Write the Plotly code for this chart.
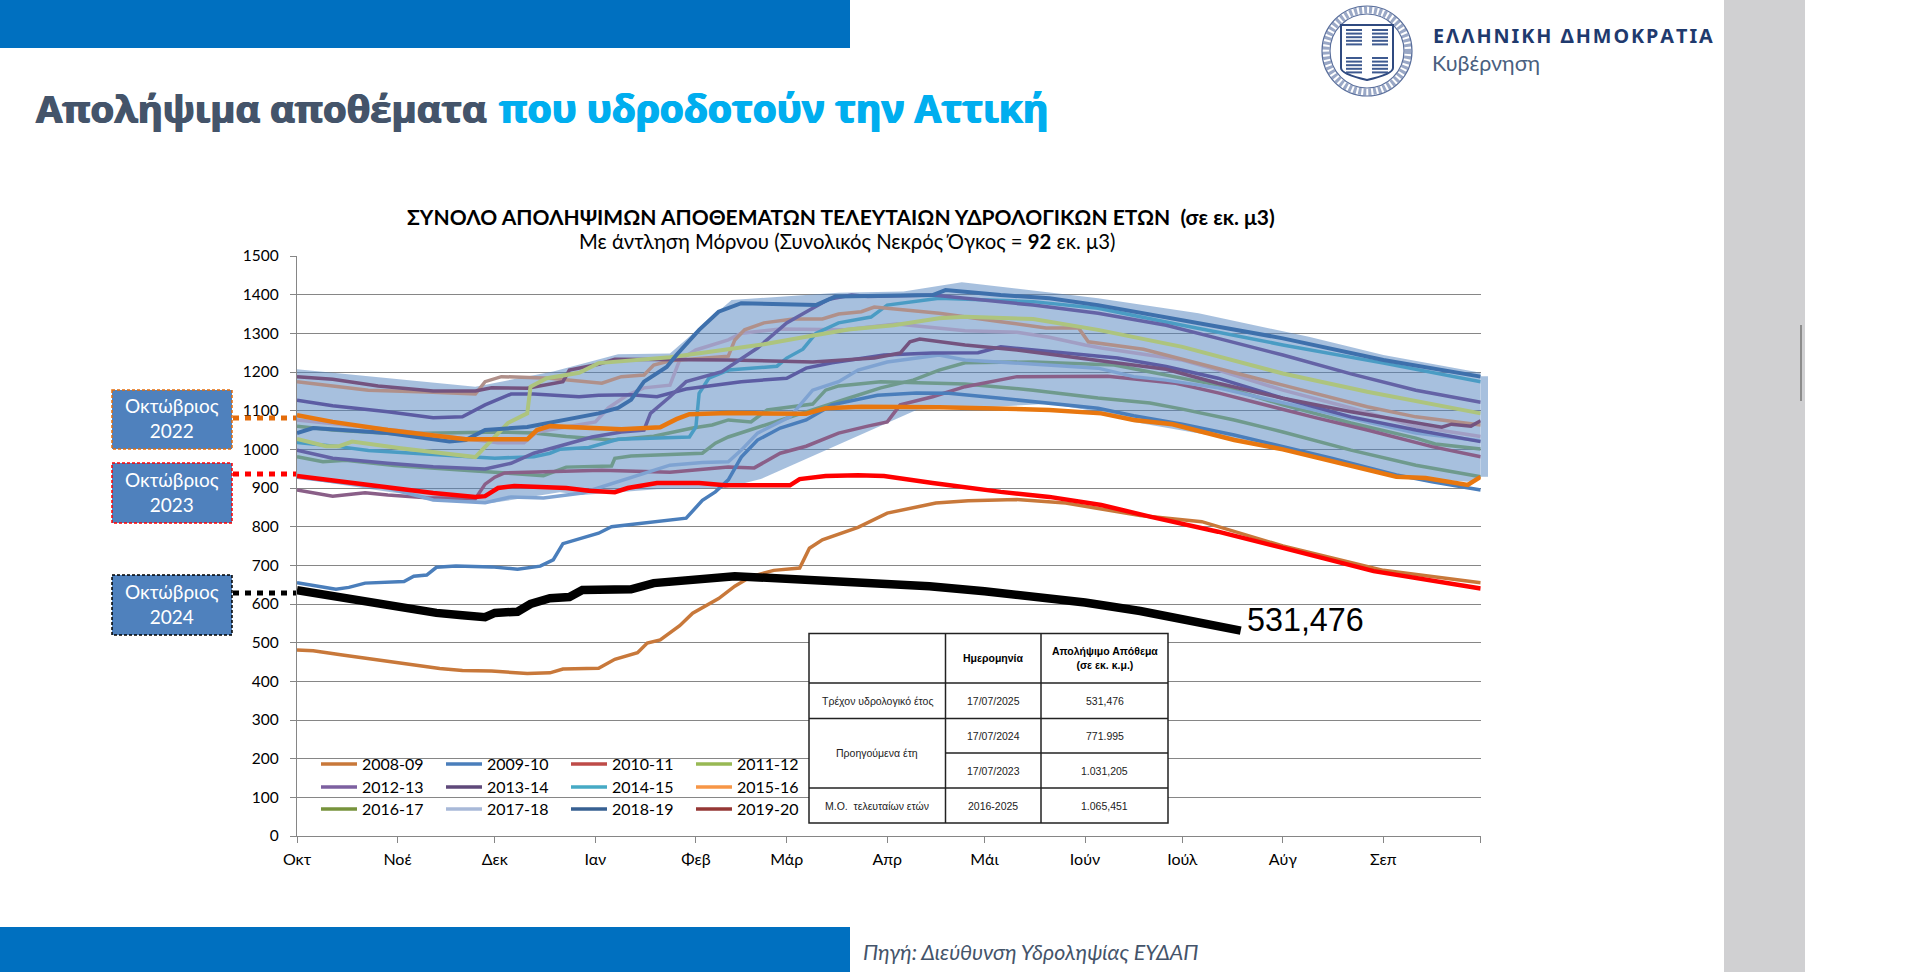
import plotly.graph_objects as go

# values: day of hydrological year (0 = 1 Oct), stock in mil. m3
MONTHS = ["Οκτ", "Νοέ", "Δεκ", "Ιαν", "Φεβ", "Μάρ", "Απρ", "Μάι", "Ιούν", "Ιούλ", "Αύγ", "Σεπ", ""]
MONTH_DAYS = [0, 31, 61, 92, 123, 151, 182, 212, 243, 273, 304, 335, 365]

band_up_x = [0, 55, 79, 99, 115, 134, 167, 187, 205, 232, 247, 278, 312, 335, 365]
band_up_y = [1207, 1162, 1201, 1246, 1248, 1386, 1405, 1408, 1432, 1405, 1391, 1352, 1291, 1244, 1198]
band_lo_x = [0, 28, 42, 60, 81, 88, 111, 132, 143, 191, 206, 232, 247, 258, 304, 339, 361, 365]
band_lo_y = [926, 890, 874, 861, 889, 882, 897, 900, 923, 1102, 1106, 1118, 1097, 1071, 1003, 929, 916, 925]

x_2008 = [0, 5, 14, 25, 34, 44, 51, 60, 71, 78, 82, 93, 98, 105, 108, 112, 118, 122, 130, 135, 140, 147, 155, 158, 162, 173, 182, 190, 197, 207, 222, 237, 260, 279, 304, 335, 365]
y_2008 = [481, 479, 468, 455, 445, 433, 428, 427, 420, 422, 432, 434, 457, 474, 499, 507, 544, 576, 614, 646, 671, 687, 693, 744, 766, 798, 835, 848, 861, 867, 870, 861, 829, 813, 750, 687, 655]
x_2009 = [0, 12, 16, 21, 33, 36, 40, 43, 49, 60, 68, 75, 79, 82, 93, 97, 120, 125, 129, 133, 137, 142, 149, 157, 165, 179, 191, 201, 217, 232, 247, 258, 273, 289, 304, 319, 339, 350, 365]
y_2009 = [655, 638, 643, 654, 658, 672, 675, 695, 698, 696, 690, 698, 714, 756, 783, 800, 822, 868, 890, 921, 980, 1024, 1055, 1076, 1115, 1140, 1146, 1145, 1132, 1120, 1106, 1087, 1065, 1037, 1007, 977, 934, 916, 895]
x_2010 = [0, 11, 21, 28, 40, 55, 58, 61, 64, 94, 115, 133, 141, 149, 157, 167, 176, 182, 186, 196, 206, 222, 250, 271, 284, 296, 314, 330, 350, 365]
y_2010 = [895, 879, 888, 882, 875, 872, 910, 928, 939, 946, 941, 954, 952, 990, 1008, 1042, 1060, 1071, 1115, 1136, 1162, 1188, 1189, 1171, 1146, 1120, 1082, 1050, 1007, 981]
x_2011 = [0, 9, 13, 17, 32, 52, 55, 60, 65, 71, 72, 77, 87, 93, 115, 128, 144, 157, 170, 184, 198, 206, 227, 247, 273, 304, 330, 365]
y_2011 = [1027, 1008, 1008, 1020, 1003, 981, 980, 1024, 1068, 1093, 1162, 1184, 1198, 1223, 1238, 1253, 1272, 1291, 1310, 1321, 1339, 1343, 1337, 1309, 1265, 1196, 1149, 1093]
x_2012 = [0, 11, 28, 42, 58, 66, 73, 91, 100, 107, 109, 115, 120, 124, 131, 142, 151, 159, 164, 171, 176, 196, 206, 227, 247, 268, 284, 304, 325, 345, 365]
y_2012 = [998, 977, 964, 955, 949, 964, 990, 1032, 1045, 1050, 1093, 1136, 1175, 1184, 1201, 1262, 1327, 1365, 1388, 1399, 1395, 1399, 1391, 1373, 1352, 1321, 1287, 1244, 1195, 1153, 1122]
x_2013 = [0, 11, 25, 42, 55, 60, 71, 82, 84, 93, 98, 133, 159, 178, 186, 189, 192, 198, 206, 222, 247, 268, 284, 304, 325, 345, 353, 356, 362, 365]
y_2013 = [1188, 1181, 1164, 1151, 1151, 1159, 1158, 1175, 1205, 1220, 1233, 1231, 1226, 1236, 1249, 1278, 1285, 1278, 1270, 1257, 1231, 1207, 1171, 1132, 1097, 1068, 1057, 1065, 1060, 1074]
x_2014 = [0, 13, 22, 42, 61, 73, 78, 81, 90, 99, 109, 121, 123, 124, 127, 133, 148, 151, 156, 160, 167, 177, 182, 198, 227, 247, 273, 304, 335, 365]
y_2014 = [1018, 1007, 997, 986, 977, 981, 990, 1000, 1005, 1026, 1029, 1032, 1058, 1145, 1184, 1205, 1215, 1236, 1259, 1300, 1327, 1342, 1373, 1391, 1382, 1365, 1321, 1270, 1223, 1175]
x_2015 = [0, 22, 40, 55, 58, 63, 78, 94, 100, 107, 110, 115, 133, 135, 138, 144, 153, 162, 167, 174, 178, 188, 198, 217, 231, 241, 244, 261, 278, 304, 330, 345, 365]
y_2015 = [1175, 1153, 1148, 1143, 1175, 1188, 1184, 1171, 1188, 1192, 1218, 1229, 1241, 1283, 1309, 1327, 1337, 1337, 1350, 1356, 1368, 1360, 1352, 1330, 1314, 1314, 1278, 1259, 1223, 1166, 1110, 1084, 1063]
x_2016 = [0, 11, 30, 45, 55, 63, 73, 83, 97, 110, 122, 128, 133, 140, 145, 159, 163, 167, 180, 198, 206, 227, 247, 263, 273, 289, 304, 325, 345, 365]
y_2016 = [1060, 1050, 1040, 1042, 1042, 1045, 1042, 1033, 1024, 1034, 1055, 1063, 1076, 1071, 1102, 1117, 1153, 1164, 1175, 1172, 1169, 1153, 1133, 1120, 1104, 1076, 1045, 998, 959, 929]
x_2017 = [0, 8, 15, 30, 55, 64, 76, 83, 97, 98, 103, 125, 129, 133, 147, 157, 170, 180, 190, 198, 206, 227, 252, 268, 284, 304, 325, 345, 351, 365]
y_2017 = [981, 968, 972, 958, 944, 939, 932, 954, 957, 977, 983, 990, 1016, 1032, 1071, 1097, 1132, 1159, 1179, 1205, 1224, 1226, 1218, 1192, 1166, 1115, 1068, 1029, 1014, 1001]
x_2018 = [0, 5, 28, 47, 52, 58, 71, 83, 93, 99, 103, 107, 114, 117, 124, 130, 137, 160, 166, 196, 200, 217, 232, 247, 273, 304, 335, 365]
y_2018 = [1042, 1055, 1042, 1020, 1024, 1050, 1058, 1076, 1093, 1107, 1128, 1175, 1213, 1244, 1309, 1356, 1378, 1373, 1395, 1399, 1412, 1399, 1391, 1373, 1334, 1287, 1231, 1188]
x_2019 = [0, 11, 28, 42, 51, 58, 66, 73, 87, 93, 103, 111, 120, 133, 137, 151, 157, 165, 181, 196, 210, 217, 232, 247, 253, 268, 284, 304, 325, 345, 365]
y_2019 = [1127, 1113, 1097, 1082, 1084, 1115, 1143, 1143, 1136, 1140, 1141, 1136, 1156, 1171, 1175, 1184, 1210, 1224, 1244, 1249, 1250, 1265, 1252, 1239, 1236, 1214, 1184, 1132, 1084, 1050, 1020]
x_2020 = [0, 30, 62, 70, 74, 92, 96, 102, 107, 115, 118, 123, 133, 137, 149, 169, 185, 198, 206, 222, 232, 243, 248, 273, 284, 304, 325, 345, 365]
y_2020 = [1076, 1050, 1017, 1017, 1045, 1071, 1107, 1141, 1159, 1166, 1231, 1257, 1283, 1300, 1311, 1309, 1324, 1314, 1307, 1303, 1290, 1270, 1262, 1231, 1205, 1153, 1107, 1059, 1033]
x_2017b = [0, 28, 42, 58, 66, 76, 88, 99, 108, 115, 125, 133, 137, 142, 152, 159, 167, 173, 182, 198, 206, 222, 247, 258, 268, 284, 304, 325, 345, 365]
y_2017b = [928, 900, 869, 862, 877, 874, 887, 916, 939, 959, 966, 968, 998, 1042, 1084, 1153, 1175, 1205, 1226, 1244, 1231, 1223, 1210, 1188, 1179, 1159, 1120, 1081, 1042, 1022]
x_2022 = [0, 11, 28, 42, 52, 71, 74, 78, 93, 100, 112, 117, 121, 133, 141, 157, 163, 174, 198, 232, 248, 258, 270, 289, 304, 319, 339, 348, 361, 365]
y_2022 = [1088, 1071, 1050, 1037, 1026, 1026, 1050, 1060, 1055, 1052, 1057, 1078, 1091, 1094, 1093, 1092, 1106, 1110, 1109, 1102, 1093, 1076, 1065, 1024, 1000, 970, 929, 926, 908, 929]
x_2023 = [0, 11, 28, 42, 55, 58, 62, 67, 83, 90, 98, 102, 111, 124, 132, 152, 155, 163, 173, 181, 196, 217, 232, 248, 263, 284, 304, 332, 365]
y_2023 = [931, 919, 902, 887, 877, 879, 900, 905, 900, 893, 889, 900, 913, 913, 907, 907, 923, 931, 933, 931, 913, 890, 877, 856, 826, 787, 745, 685, 640]
x_2024 = [0, 16, 31, 43, 51, 58, 61, 68, 72, 78, 84, 88, 103, 110, 135, 151, 182, 195, 212, 243, 260, 273, 291]
y_2024 = [636, 612, 590, 577, 571, 566, 577, 580, 600, 615, 618, 636, 638, 654, 672, 665, 649, 646, 633, 604, 582, 560, 531]

LEGEND_ROWS = [
    ["2008-09", "2009-10", "2010-11", "2011-12"],
    ["2012-13", "2013-14", "2014-15", "2015-16"],
    ["2016-17", "2017-18", "2018-19", "2019-20"],
]
LEGEND_COLORS = {
    "2008-09": "#C8783A", "2009-10": "#4A7EBB", "2010-11": "#BE4B48", "2011-12": "#98B954",
    "2012-13": "#7D60A0", "2013-14": "#5F497A", "2014-15": "#46AAC5", "2015-16": "#F79646",
    "2016-17": "#77933C", "2017-18": "#A8B9D8", "2018-19": "#376092", "2019-20": "#953735",
}

TABLE_HEAD = ["", "Ημερομηνία", "Απολήψιμο Απόθεμα<br>(σε εκ. κ.μ.)"]
TABLE_DATES = ["17/07/2025", "17/07/2024", "17/07/2023", "2016-2025"]
TABLE_VALUES = ["531,476", "771.995", "1.031,205", "1.065,451"]
TABLE_ROWS = ["Τρέχον υδρολογικό έτος", "Προηγούμενα έτη", "Μ.Ο.  τελευταίων ετών"]

W, H = 1920, 972
LABEL_FONT = "Lato"


def px(x):
    return x / W


def py(y):
    return 1 - y / H


def rect(x0, y0, x1, y1, fill, line=None, width=0, dash="solid", layer="above"):
    return dict(type="rect", xref="paper", yref="paper", x0=px(x0), x1=px(x1), y0=py(y0), y1=py(y1),
                fillcolor=fill, line=dict(color=line or fill, width=width, dash=dash), layer=layer)


def text(x, y, s, size, color="#000000", family=LABEL_FONT, anchor="center", **font_kw):
    return dict(xref="paper", yref="paper", x=px(x), y=py(y), text=s, showarrow=False, xanchor=anchor,
                yanchor="middle", font=dict(size=size, color=color, family=family, **font_kw))


fig = go.Figure()

fig.add_trace(go.Scatter(x=band_up_x + band_lo_x[::-1], y=band_up_y + band_lo_y[::-1], fill="toself",
                         fillcolor="rgba(79,129,189,0.5)", line=dict(width=0), mode="lines",
                         showlegend=False, hoverinfo="skip"))

series = [
    (x_2008, y_2008, "#C8783A", 3.5),
    (x_2017, y_2017, "#6F9A8D", 3.5),
    (x_2016, y_2016, "#6F9A8D", 3.5),
    (x_2010, y_2010, "#8A5F88", 3.5),
    (x_2009, y_2009, "#4A7EBB", 3.5),
    (x_2017b, y_2017b, "#7FA3D2", 3.5),
    (x_2020, y_2020, "#A19EC4", 3.5),
    (x_2014, y_2014, "#4A9CC4", 3.5),
    (x_2015, y_2015, "#B0908A", 3.5),
    (x_2019, y_2019, "#5C5CA3", 3.5),
    (x_2013, y_2013, "#74537F", 3.5),
    (x_2012, y_2012, "#6463A6", 3.5),
    (x_2011, y_2011, "#ADC47E", 4),
    (x_2018, y_2018, "#3E70AC", 4),
    (x_2022, y_2022, "#E8770F", 4.5),
    (x_2023, y_2023, "#FF0000", 4.5),
    (x_2024, y_2024, "#000000", 8.5),
]
for xs, ys, color, width in series:
    fig.add_trace(go.Scatter(x=xs, y=ys, mode="lines", line=dict(color=color, width=width), showlegend=False))

# empty traces only carry the legend keys, the colours there are brighter than the lines
legend_names = ["legend", "legend2", "legend3"]
for row, legend_name in zip(LEGEND_ROWS, legend_names):
    for name in row:
        fig.add_trace(go.Scatter(x=[None], y=[None], mode="lines", name=name, legend=legend_name,
                                 line=dict(color=LEGEND_COLORS[name], width=3.5)))

legend_style = dict(orientation="h", xanchor="left", yanchor="middle", x=px(316),
                    bgcolor="rgba(0,0,0,0)", entrywidth=74, entrywidthmode="pixels",
                    itemwidth=36, font=dict(family=LABEL_FONT, size=16, color="#000000"))

shapes = [
    rect(0, 0, 850, 48, "#0070C0", layer="below"),
    rect(0, 927, 850, 972, "#0070C0", layer="below"),
    rect(1724, 0, 1805, 972, "#D0D0D2", layer="below"),
    rect(1800, 325, 1802, 401, "#8C8C8C"),
    # tail of the band, it runs a little past the axis
    dict(type="rect", xref="paper", yref="y", x0=px(1480.7), x1=px(1488), y0=929, y1=1189,
         fillcolor="rgba(79,129,189,0.5)", line=dict(width=0), layer="below"),
]

# callouts on the left
CALLOUTS = [("Οκτώβριος<br>2022", 390, 449, "#E46C0A", 418), ("Οκτώβριος<br>2023", 463, 523, "#FF0000", 474),
            ("Οκτώβριος<br>2024", 575, 635, "#000000", 593)]
annotations = []
for label, top, bottom, color, conn in CALLOUTS:
    shapes.append(rect(112, top, 232, bottom, "#4F81BD", color, 1.5, "3px,2px"))
    shapes.append(dict(type="line", xref="paper", yref="paper", x0=px(233), x1=px(296), y0=py(conn), y1=py(conn),
                       line=dict(color=color, width=5, dash="6px,6px")))
    annotations.append(text(172, (top + bottom) / 2 - 1.5, label, 19, "#FFFFFF"))

# table
col_x = [809, 945.5, 1041, 1168]
row_y = [633.5, 683, 718.5, 753, 788, 823]
shapes.append(rect(col_x[0], row_y[0], col_x[3], row_y[5], "#FFFFFF", "#222222", 1.5))
for xv in col_x[1:3]:
    shapes.append(dict(type="line", xref="paper", yref="paper", x0=px(xv), x1=px(xv), y0=py(row_y[0]), y1=py(row_y[5]),
                       line=dict(color="#222222", width=1.5)))
for i, yv in enumerate(row_y[1:5]):
    start = col_x[1] if i == 2 else col_x[0]
    shapes.append(dict(type="line", xref="paper", yref="paper", x0=px(start), x1=px(col_x[3]), y0=py(yv), y1=py(yv),
                       line=dict(color="#222222", width=1.5)))
TF = "Liberation Sans"
mid_col = [(col_x[i] + col_x[i + 1]) / 2 for i in range(3)]
annotations.append(text(mid_col[1], (row_y[0] + row_y[1]) / 2, "<b>" + TABLE_HEAD[1] + "</b>", 10.5, family=TF))
annotations.append(text(mid_col[2], (row_y[0] + row_y[1]) / 2, "<b>" + TABLE_HEAD[2] + "</b>", 10.5, family=TF))
row_mid = [(row_y[i] + row_y[i + 1]) / 2 for i in range(1, 5)]
for i in range(4):
    annotations.append(text(mid_col[1], row_mid[i], TABLE_DATES[i], 10.5, family=TF, color="#222222"))
    annotations.append(text(mid_col[2], row_mid[i], TABLE_VALUES[i], 10.5, family=TF, color="#222222"))
annotations.append(text(mid_col[0], row_mid[0], TABLE_ROWS[0], 10.5, family=TF, color="#222222"))
annotations.append(text(mid_col[0], row_y[3], TABLE_ROWS[1], 10.5, family=TF, color="#222222"))
annotations.append(text(mid_col[0], row_mid[3], TABLE_ROWS[2], 10.5, family=TF, color="#222222"))

DARK, CYAN = "#44546A", "#00AEEF"
annotations += [
    text(1245, 620, "531,476", 32.3, family=TF, anchor="left"),
    text(841, 217, "<b>ΣΥΝΟΛΟ ΑΠΟΛΗΨΙΜΩΝ ΑΠΟΘΕΜΑΤΩΝ ΤΕΛΕΥΤΑΙΩΝ ΥΔΡΟΛΟΓΙΚΩΝ ΕΤΩΝ  (σε εκ. μ3)</b>", 21),
    text(847, 241, "Με άντληση Μόρνου (Συνολικός Νεκρός Όγκος = <b>92</b> εκ. μ3)", 20.3),
    text(34, 108, "<b>Απολήψιμα αποθέματα</b>", 38.2, DARK, anchor="left", family="Open Sans",
         shadow=f"0.8px 0 0 {DARK}, -0.8px 0 0 {DARK}"),
    text(497, 108, "<b>που υδροδοτούν την Αττική</b>", 38.8, CYAN, anchor="left", family="Open Sans",
         shadow=f"0.8px 0 0 {CYAN}, -0.8px 0 0 {CYAN}"),
    text(861, 952, "<i>Πηγή: Διεύθυνση Υδροληψίας ΕΥΔΑΠ</i>", 21.4, DARK, anchor="left"),
    text(1431, 36, "<b>" + "\u200a".join("ΕΛΛΗΝΙΚΗ ΔΗΜΟΚΡΑΤΙΑ") + "</b>", 19.8, "#1F3A6E", anchor="left", family="Noto Sans"),
    text(1430, 63, "Κυβέρνηση", 21.5, "#4A5F80", anchor="left"),
]

# emblem next to the logo text
LOGO = "#5A6F9C"
cx, cy = 1367, 51
for r, w, d, c in [(41, 7, "3px,2px", "#9AA8C6"), (45, 1.2, "solid", LOGO), (37, 1.2, "solid", LOGO)]:
    shapes.append(dict(type="circle", xref="paper", yref="paper", x0=px(cx - r), x1=px(cx + r), y0=py(cy - r), y1=py(cy + r),
                       fillcolor="rgba(0,0,0,0)", line=dict(color=c, width=w, dash=d)))
shield = "M {} {} L {} {} L {} {} Q {} {} {} {} Q {} {} {} {} Z".format(
    px(1341), py(25), px(1393), py(25), px(1393), py(68), px(1393), py(74), px(1367), py(80),
    px(1341), py(74), px(1341), py(68))
shapes.append(dict(type="path", xref="paper", yref="paper", path=shield, fillcolor="#FFFFFF", line=dict(color="#2F4A80", width=2)))
for qx in (1346, 1372):
    for qy in (29, 57):
        for k in range(5):
            shapes.append(rect(qx, qy + k * 3.6, qx + 16, qy + k * 3.6 + 2, "#3E5A90"))

fig.update_layout(
    width=W, height=H, margin=dict(l=0, r=0, t=0, b=0, autoexpand=False), autosize=False,
    paper_bgcolor="#FFFFFF", plot_bgcolor="rgba(0,0,0,0)",
    font=dict(family=LABEL_FONT, color="#000000"),
    xaxis=dict(domain=[px(297), px(1480.7)], range=[0, 365], tickmode="array", tickvals=MONTH_DAYS, ticktext=MONTHS,
               ticks="outside", ticklen=6, tickcolor="#868686", tickwidth=1.3, showgrid=False, showline=True,
               linecolor="#868686", linewidth=1.3, zeroline=False, tickfont=dict(size=16), tickangle=0,
               ticklabelstandoff=3),
    yaxis=dict(domain=[py(836), py(256)], range=[0, 1500], dtick=100, ticks="outside", ticklen=6, tickcolor="#868686",
               tickwidth=1.3, showgrid=True, gridcolor="#868686", gridwidth=1.3, showline=True, linecolor="#868686",
               linewidth=1.3, zeroline=False, tickfont=dict(size=15.5), ticklabelstandoff=8),
    shapes=shapes, annotations=annotations,
    legend=dict(y=py(764), **legend_style),
    legend2=dict(y=py(787), **legend_style),
    legend3=dict(y=py(809), **legend_style),
)

fig.write_html("out.html", config={"displayModeBar": False},
               post_script="document.body.style.margin='0';document.body.style.overflow='hidden';")
